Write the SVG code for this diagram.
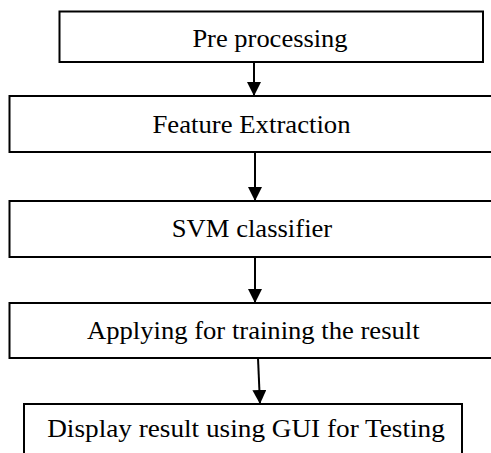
<svg xmlns="http://www.w3.org/2000/svg" width="491" height="453" viewBox="0 0 491 453">
<style>
.box{fill:#fff;stroke:#000;stroke-width:2}
.lbl{font-family:'Liberation Serif','Times New Roman',Times,serif;font-size:25px;fill:#000;text-anchor:middle}
.conn{stroke:#000;stroke-width:2;fill:none}
</style>
<defs>
<marker id="ah" markerUnits="userSpaceOnUse" markerWidth="14" markerHeight="15" refX="14" refY="7" orient="auto">
<polygon points="0,0 14,7 0,14" fill="#000"/>
</marker>
</defs>
<rect width="491" height="453" fill="#fff"/>
<g id="connectors">
<line class="conn" x1="254" y1="62" x2="254" y2="96" marker-end="url(#ah)"/>
<line class="conn" x1="255" y1="152" x2="255" y2="201" marker-end="url(#ah)"/>
<line class="conn" x1="255" y1="257" x2="255" y2="303" marker-end="url(#ah)"/>
<line class="conn" x1="258" y1="358" x2="260" y2="404" marker-end="url(#ah)"/>
</g>
<g id="n1">
<rect class="box" x="59.5" y="11.5" width="423.5" height="50.5"/>
<text class="lbl" transform="translate(270 46.5) scale(1.06 1)">Pre processing</text>
</g>
<g id="n2">
<rect class="box" x="9.5" y="96" width="490" height="56"/>
<text class="lbl" transform="translate(251.5 132.5) scale(1.07 1)">Feature Extraction</text>
</g>
<g id="n3">
<rect class="box" x="9.5" y="201" width="490" height="56"/>
<text class="lbl" transform="translate(252 237) scale(1.065 1)">SVM classifier</text>
</g>
<g id="n4">
<rect class="box" x="9.5" y="303" width="490" height="55"/>
<text class="lbl" transform="translate(253.3 339) scale(1.065 1)">Applying for training the result</text>
</g>
<g id="n5">
<rect class="box" x="24" y="404" width="438" height="60"/>
<text class="lbl" transform="translate(246 437) scale(1.09 1)">Display result using GUI for Testing</text>
</g>
</svg>
